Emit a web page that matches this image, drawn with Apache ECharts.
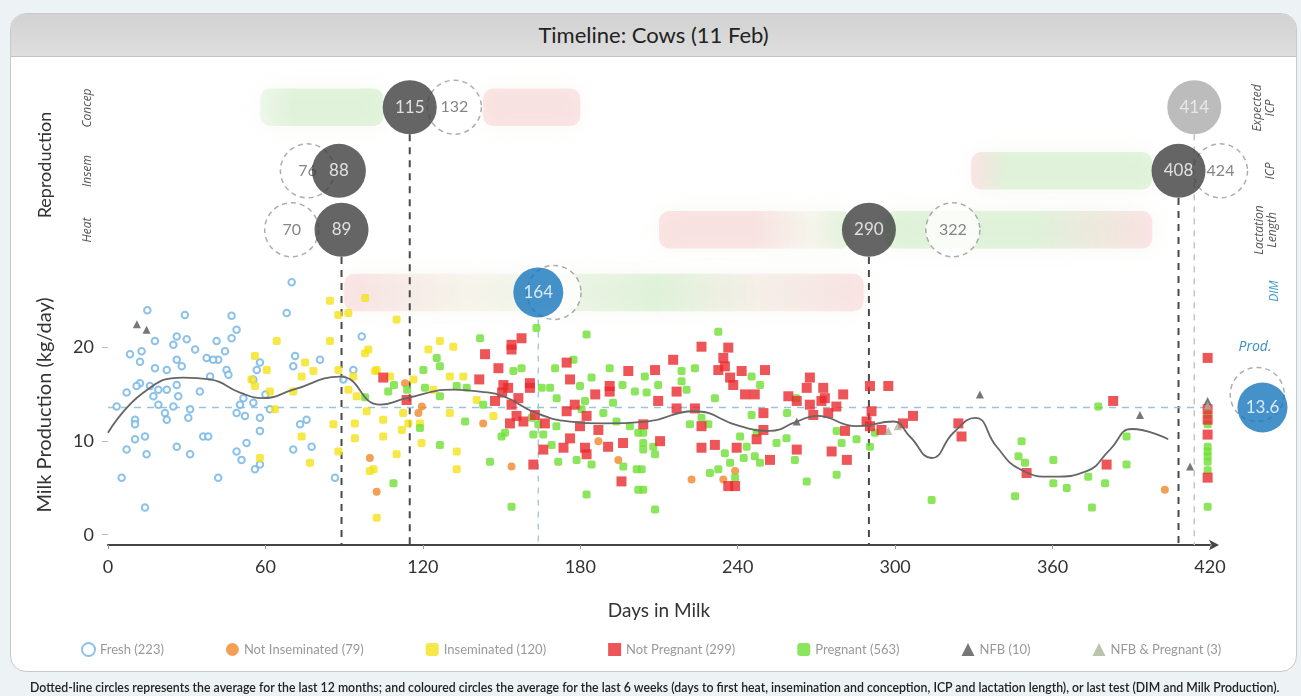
<!DOCTYPE html>
<html>
<head>
<meta charset="utf-8">
<script src="https://cdn.jsdelivr.net/npm/echarts@6/dist/echarts.min.js"></script>
<style>
  html, body { margin: 0; padding: 0; width: 1301px; height: 696px; overflow: hidden; background: #edf2f4; font-family: Lato, "Noto Sans", sans-serif; }
  .card { position: absolute; left: 10px; top: 13px; width: 1285px; height: 657px; background: #fff; border: 1px solid #c9c9c9; border-radius: 16px; overflow: hidden; }
  .card-header { height: 42px; line-height: 42px; text-align: center; font-size: 22px; color: #222; background: linear-gradient(#d2d2d2, #dedede); border-bottom: 1px solid #c4c4c4; }
  #chart { position: absolute; left: 0; top: 0; width: 1301px; height: 696px; }
  .footnote { position: absolute; left: 30px; top: 680px; font-size: 12.3px; color: #222; font-weight: 600; white-space: nowrap; }
</style>
</head>
<body>
<div class="card"><div class="card-header">Timeline: Cows (11 Feb)</div></div>
<div id="chart"></div>
<div class="footnote">Dotted-line circles represents the average for the last 12 months; and coloured circles the average for the last 6 weeks (days to first heat, insemination and conception, ICP and lactation length), or last test (DIM and Milk Production).</div>
<script>
// days in milk / kg per day
const fresh = [
  [17.9,20.7],[26.2,21.2],[30.0,20.9],[33.2,19.8],[24.9,20.3],[12.8,19.6],[8.4,19.3],[12.2,18.5],
  [17.9,17.8],[22.4,17.6],[28.1,18.0],[12.2,16.2],[16.0,15.9],[19.2,15.5],[22.4,15.5],[26.2,16.0],
  [7.1,15.2],[10.9,15.9],[17.3,14.8],[26.8,14.8],[19.2,13.9],[21.7,13.0],[22.4,12.3],[24.9,13.7],
  [31.3,13.4],[30.6,12.5],[10.3,12.3],[10.3,11.8],[10.3,10.2],[14.1,10.5],[7.1,9.1],[14.7,8.6],
  [26.2,9.4],[31.3,8.6],[36.3,10.5],[38.2,10.5],[41.4,20.7],[44.6,19.6],[47.1,21.0],[49.0,21.9],
  [47.1,23.4],[42.0,18.7],[45.2,17.6],[37.6,18.9],[40.1,18.7],[38.9,16.9],[45.9,17.1],[51.6,14.6],
  [50.3,13.9],[49.0,13.0],[52.2,12.7],[55.4,14.1],[56.7,17.6],[57.9,18.4],[55.4,16.6],[57.9,12.5],
  [57.9,11.1],[52.8,9.8],[49.0,8.9],[50.9,8.0],[56.0,7.0],[57.9,7.5],[61.7,13.4],[68.1,23.7],
  [71.3,19.1],[70.6,18.0],[73.2,11.8],[75.7,12.3],[70.6,9.1],[77.6,9.4],[80.8,18.7],[86.5,6.1],
  [89.7,16.6],[93.5,17.6],[96.7,21.2],[3.3,13.7],[42.0,6.1],[14.1,2.9],[5.2,6.1],[29.3,23.5],
  [26.2,18.7],[70.0,27.0],[15.0,24.0],[35.0,15.3],[60.0,15.0]
];
const notInseminated = [
  [99.8,8.2],[102.4,4.6],[113.2,16.2],[118.3,13.0],[119.6,13.7],[143.0,11.9],[153.8,7.3],
  [186.9,10.0],[194.5,8.0],[222.4,5.9],[234.5,5.9],[239.0,6.8],[402.8,4.8]
];
const inseminated = [
  [84.6,25.0],[98.0,25.3],[87.8,23.5],[91.6,23.7],[64.3,20.7],[84.6,20.7],[98.0,19.4],[99.2,19.8],
  [56.0,19.1],[60.5,17.6],[54.7,16.6],[56.0,15.9],[61.7,15.3],[73.8,16.9],[75.1,18.4],[78.3,17.5],
  [87.8,17.6],[93.5,16.9],[91.6,15.5],[94.8,14.8],[63.6,13.4],[70.6,15.3],[85.9,11.8],[94.1,11.9],
  [98.6,13.2],[73.8,10.5],[94.1,10.3],[57.9,8.2],[77.0,7.7],[87.8,8.9],[99.8,6.8],[102.4,1.8],
  [101.8,17.5],[110.0,23.0],[126.5,20.7],[122.1,19.8],[131.6,20.1],[102.4,17.6],[107.5,16.9],
  [116.4,16.6],[130.3,16.9],[135.4,16.9],[124.0,15.5],[112.5,13.0],[114.5,11.9],[112.0,11.2],
  [104.9,12.3],[104.9,10.5],[118.9,11.9],[119.5,9.8],[110.0,8.6],[132.9,8.9],[132.9,7.0],
  [101.2,7.0],[140.5,14.4],[146.9,12.7],[130.3,13.0]
];
const notPregnant = [
  [104.9,16.8],[113.8,14.4],[143.7,19.3],[153.8,20.3],[153.8,19.8],[157.6,21.0],[148.8,17.8],
  [141.5,16.6],[150.7,16.0],[152.5,15.7],[150.2,15.2],[160.8,16.2],[160.8,15.7],[156.4,14.6],
  [147.5,14.3],[153.8,13.9],[155.7,12.7],[153.2,11.9],[158.3,12.1],[162.7,12.8],[166.5,11.9],
  [165.9,9.1],[162.1,7.5],[174.8,18.4],[176.1,16.6],[174.8,13.2],[177.9,13.9],[179.9,11.6],
  [182.4,12.7],[176.1,10.3],[173.6,9.3],[181.8,9.3],[182.4,8.6],[186.9,11.2],[185.7,15.0],
  [191.2,15.9],[191.2,15.3],[198.3,17.5],[190.6,9.4],[196.3,9.8],[195.7,5.7],[204.0,11.8],
  [208.5,17.6],[210.4,10.0],[215.4,18.7],[216.7,15.3],[209.7,14.3],[216.7,13.5],[223.7,13.5],
  [226.2,20.1],[236.4,20.0],[234.5,18.9],[235.1,18.0],[232.6,17.6],[237.1,16.8],[238.3,16.0],
  [241.5,17.5],[250.4,17.6],[242.8,15.0],[246.5,15.0],[226.2,11.6],[226.2,9.3],[231.3,9.6],
  [239.6,9.3],[249.8,13.0],[249.8,11.2],[247.2,10.2],[252.3,8.0],[236.4,5.2],[239.0,5.2],
  [262.5,9.1],[267.5,16.8],[266.3,15.7],[272.6,15.7],[259.3,14.8],[262.5,14.3],[267.5,13.9],
  [271.9,14.3],[273.2,14.6],[277.6,13.7],[280.2,15.0],[268.8,12.8],[274.5,13.0],[275.8,8.9],
  [280.9,11.1],[281.6,8.0],[290.4,15.9],[297.4,15.9],[291.0,13.2],[289.1,12.1],[290.4,11.6],
  [294.8,11.2],[303.0,11.9],[306.8,12.7],[324.1,11.9],[325.3,10.5],[350.1,6.6],[380.6,7.5],
  [383.1,14.3],[419.1,18.9],[419.1,13.4],[419.1,12.3],[419.1,10.7],[419.1,6.1]
];
const pregnant = [
  [163.3,22.1],[141.8,21.0],[182.4,21.4],[125.3,18.9],[120.2,17.6],[126.5,18.0],[120.8,15.7],
  [126.5,14.8],[132.9,15.9],[136.7,15.7],[106.8,15.3],[154.5,17.5],[157.6,17.8],[165.3,15.7],
  [168.5,15.7],[170.4,17.8],[177.4,18.7],[171.0,14.6],[179.9,15.9],[181.8,14.3],[180.5,13.4],
  [184.3,16.8],[191.2,17.8],[196.1,16.0],[200.8,15.3],[192.5,14.1],[188.8,13.0],[198.9,11.6],
  [193.8,12.1],[202.1,10.9],[204.0,9.1],[196.4,7.3],[201.5,7.0],[202.1,4.8],[184.3,7.5],
  [182.4,4.3],[178.6,8.0],[171.6,7.8],[169.1,9.6],[162.1,10.7],[165.9,10.7],[164.0,11.8],
  [161.5,12.5],[150.0,10.5],[151.3,10.9],[145.6,7.8],[153.8,3.0],[136.1,12.1],[126.5,9.6],
  [118.9,11.4],[108.8,5.5],[143.0,13.9],[170.9,11.6],[98.0,14.7],[109.0,16.0],[114.0,15.5],
  [232.6,21.7],[223.7,17.8],[218.6,17.5],[218.6,16.4],[204.6,16.9],[205.3,15.2],[209.7,16.0],
  [220.5,15.5],[231.3,14.6],[226.2,12.5],[221.8,11.8],[228.8,11.8],[204.0,10.9],[204.0,9.8],
  [207.8,9.4],[208.5,8.6],[203.4,7.0],[204.0,4.8],[208.5,2.7],[235.1,8.7],[237.1,7.7],
  [240.9,10.5],[243.4,9.4],[246.5,8.4],[242.3,8.2],[248.5,7.7],[229.4,6.6],[232.6,7.0],
  [239.0,6.1],[245.3,16.9],[248.5,16.0],[245.3,12.8],[247.2,10.9],[254.8,9.8],[258.6,10.3],
  [261.8,8.0],[266.3,5.7],[258.8,13.0],[262.3,14.6],[277.7,11.1],[279.6,9.8],[285.3,10.2],
  [277.7,6.4],[290.4,9.4],[292.3,10.9],[313.9,3.7],[348.2,10.0],[347.0,8.4],[349.5,7.7],
  [360.3,8.0],[360.3,5.5],[365.4,5.0],[345.7,4.1],[373.6,6.2],[375.0,2.9],[380.0,5.5],
  [388.2,10.5],[388.2,7.5],[377.4,13.7],[419.1,9.4],[419.1,8.9],[419.1,8.4],[419.1,7.8],
  [419.1,6.9],[419.1,3.0],[419.1,11.8],[419.1,12.8]
];
const nfb = [[14.7,21.9],[11.0,22.5],[262.5,12.1],[332.3,15.0],[393.3,12.8],[412.4,7.3],[419.1,14.3]];
const nfbPregnant = [[297.4,11.1],[301.0,11.6],[419.1,13.8]];

// smoothed production curve
const trend = [
  [0,10.9],[13.5,15.2],[28.7,16.8],[38.9,16.6],[50.3,15.2],[59.2,14.6],[70.6,15.5],[88.4,16.9],
  [103.7,13.9],[113.8,14.6],[131.6,15.5],[141.8,15.3],[150.7,14.8],[163.3,13.0],[176.1,12.1],
  [188.8,11.9],[205.3,12.1],[223.1,13.2],[240.9,11.6],[252.3,11.1],[262.5,12.1],[270.1,12.7],
  [285.3,11.6],[299.3,12.1],[305.6,10.5],[313.9,8.2],[322.2,10.9],[330.5,12.5],[338.7,9.4],
  [347.6,7.0],[360.3,6.2],[373.0,6.8],[381.9,9.1],[390.2,11.3],[404.1,10.2]
];

// reproduction timeline: rows of the upper panel, and the circle values
const rowY = { concep: 45.7, insem: 38.9, heat: 32.6, dim: 25.9 };
const recent = [[115,'concep'],[88,'insem'],[89,'heat'],[290,'heat'],[408,'insem']];
const average = [[132,'concep'],[76,'insem'],[70,'heat'],[322,'heat'],[424,'insem']];
const expectedIcp = [[414,'concep']];
const dimRecent = 164, dimAverage = 170;
const prodRecent = 13.6, prodAverage = 15.0;
const prodX = 440;
// soft target bands: [startDay, endDay, row]
const bands = [[58,105,'concep'],[143,180,'concep'],[329,398,'insem'],[210,283,'heat'],[296,398,'heat'],[90,288,'dim']];
const PINK = 'rgba(248,200,200,0.45)', GREEN = 'rgba(200,236,190,0.5)', PALE = 'rgba(240,238,218,0.4)';
const bandStops = [
  [[0,'rgba(200,236,190,0.3)'],[0.3,GREEN],[1,GREEN]],
  [[0,PINK],[1,PINK]],
  [[0,PINK],[0.2,GREEN],[1,GREEN]],
  [[0,PINK],[0.5,PINK],[0.8,PALE],[1,GREEN]],
  [[0,GREEN],[0.55,GREEN],[1,PINK]],
  [[0,PINK],[0.25,PALE],[0.45,'rgba(218,238,204,0.45)'],[0.6,GREEN],[0.8,'rgba(240,228,214,0.45)'],[1,PINK]]
];
// vertical guides: [day, row they hang from, style]
const guides = [[89,'heat','dark'],[115,'concep','dark'],[290,'heat','dark'],[408,'insem','dark'],[414,'concep','light'],[164,'dim','blue']];
const guideStyle = {
  dark: { color: '#4a4a4a', width: 2, type: [7, 6] },
  light: { color: '#c4c4c4', width: 1.5, type: [6, 6] },
  blue: { color: '#a9c9dc', width: 1.5, type: [6, 6] }
};

const yTicks = [0, 10, 20];
const ITALIC = '"Open Sans", "Noto Sans", sans-serif';

const chart = echarts.init(document.getElementById('chart'), null, { renderer: 'canvas' });

const circleLabel = (color, size) => ({
  show: true, position: 'inside', color: color, fontSize: size, fontFamily: 'Lato',
  formatter: p => p.value[2]
});

const vText = (txt, x, y, size, fill, italic) => ({
  type: 'text', x: x, y: y, rotation: Math.PI / 2, silent: true,
  style: {
    text: txt, align: 'center', verticalAlign: 'middle', fill: fill,
    fontFamily: italic ? ITALIC : 'Lato', fontSize: size, fontStyle: italic ? 'italic' : 'normal',
    lineHeight: size + 1
  }
});

const option = {
  animation: false,
  grid: { left: 108, right: 91, top: 67, bottom: 151 },
  xAxis: {
    type: 'value', min: 0, max: 420, interval: 60,
    name: 'Days in Milk', nameLocation: 'middle', nameGap: 56,
    nameTextStyle: { fontSize: 19, color: '#333', fontFamily: 'Lato' },
    axisLine: { onZero: false, symbol: ['none', 'arrow'], symbolSize: [8, 10], symbolOffset: [0, 9], lineStyle: { color: '#444', width: 2 } },
    axisTick: { length: 4, lineStyle: { color: '#999' } },
    axisLabel: { fontSize: 18, color: '#333', margin: 13, fontFamily: 'Lato' },
    splitLine: { show: false }
  },
  yAxis: {
    type: 'value', min: -1.1, max: 50,
    axisLine: { show: false },
    axisTick: { show: true, length: 6, customValues: yTicks, lineStyle: { color: '#bbb' } },
    axisLabel: { fontSize: 18, color: '#333', margin: 14, customValues: yTicks, fontFamily: 'Lato' },
    splitLine: { show: false }
  },
  legend: {
    left: 76, top: 637, itemGap: 62, itemWidth: 13, itemHeight: 13,
    textStyle: { color: '#999', fontSize: 13, fontFamily: 'Lato' },
    data: ['Fresh (223)', 'Not Inseminated (79)', 'Inseminated (120)', 'Not Pregnant (299)', 'Pregnant (563)', 'NFB (10)', 'NFB & Pregnant (3)']
  },
  graphic: [
    vText('Reproduction', 45, 165, 18, '#333', false),
    vText('Milk Production (kg/day)', 45, 405, 20, '#333', false),
    vText('Concep', 88, 108, 12, '#555', true),
    vText('Insem', 88, 171, 12, '#555', true),
    vText('Heat', 88, 230, 12, '#555', true),
    vText('Expected\nICP', 1264, 108, 12, '#555', true),
    vText('ICP', 1271, 171, 12, '#555', true),
    vText('Lactation\nLength', 1266, 230, 12, '#555', true),
    vText('DIM', 1275, 291, 12, '#3a9cc8', true),
    { type: 'text', x: 1255, y: 347, silent: true, style: { text: 'Prod.', align: 'center', verticalAlign: 'middle', fontFamily: ITALIC, fontSize: 14, fontStyle: 'italic', fill: '#3a8fc0' } }
  ],
  series: [
    {
      type: 'custom', name: 'bands', silent: true, z: 0,
      data: bands.map(b => [b[0], b[1], rowY[b[2]]]),
      encode: { x: [0, 1], y: 2 },
      renderItem: (params, api) => {
        const a = api.coord([api.value(0), api.value(2) + 2]);
        const b = api.coord([api.value(1), api.value(2) - 2]);
        return {
          type: 'rect',
          shape: { x: a[0], y: a[1], width: b[0] - a[0], height: b[1] - a[1], r: 10 },
          style: {
            fill: new echarts.graphic.LinearGradient(0, 0, 1, 0, bandStops[params.dataIndex].map(s => ({ offset: s[0], color: s[1] }))),
            shadowBlur: 20, shadowColor: 'rgba(225,225,215,0.6)'
          }
        };
      }
    },
    ...guides.map(g => ({
      type: 'line', name: 'guide', silent: true, symbol: 'none', z: 1,
      lineStyle: guideStyle[g[2]],
      data: [[g[0], rowY[g[1]] - 2.9], [g[0], -1.1]]
    })),
    {
      type: 'line', name: 'prodRef', silent: true, symbol: 'none', z: 1,
      lineStyle: { color: '#9cc3da', width: 1.5, type: [7, 6] },
      data: [[0, prodRecent], [prodX - 2.5, prodRecent]]
    },
    {
      type: 'scatter', name: 'Fresh (223)', symbol: 'emptyCircle', symbolSize: 6.5, z: 3,
      itemStyle: { color: '#6fb3e4', borderColor: '#6fb3e4', borderWidth: 1, opacity: 0.8 },
      data: fresh
    },
    {
      type: 'scatter', name: 'Not Inseminated (79)', symbol: 'circle', symbolSize: 8, z: 3,
      itemStyle: { color: '#f0872a' }, data: notInseminated
    },
    {
      type: 'scatter', name: 'Inseminated (120)', symbol: 'roundRect', symbolSize: 8, z: 3,
      itemStyle: { color: '#f4e21a' }, data: inseminated
    },
    {
      type: 'scatter', name: 'Not Pregnant (299)', symbol: 'rect', symbolSize: 10, z: 4,
      itemStyle: { color: '#ea2a2e' }, data: notPregnant
    },
    {
      type: 'scatter', name: 'Pregnant (563)', symbol: 'roundRect', symbolSize: 8, z: 3,
      itemStyle: { color: '#6fe034' }, data: pregnant
    },
    {
      type: 'scatter', name: 'NFB (10)', symbol: 'triangle', symbolSize: 8, z: 4,
      itemStyle: { color: '#555' }, data: nfb
    },
    {
      type: 'scatter', name: 'NFB & Pregnant (3)', symbol: 'triangle', symbolSize: 8, z: 4,
      itemStyle: { color: '#a9b49a' }, data: nfbPregnant
    },
    {
      type: 'line', name: 'trend', silent: true, symbol: 'none', smooth: 0.5, z: 5,
      lineStyle: { color: '#666', width: 1.8 }, data: trend
    },
    {
      type: 'scatter', name: 'avg', silent: true, symbolSize: 54, z: 6, clip: false,
      itemStyle: { color: '#fff', borderColor: '#999', borderWidth: 1.5, borderType: [5, 4] },
      label: circleLabel('#666', 16),
      data: average.map(d => [d[0], rowY[d[1]], String(d[0])])
        .concat([[dimAverage, rowY.dim, ''], [prodX - 2, prodAverage, '']])
    },
    {
      type: 'scatter', name: 'recent', silent: true, symbolSize: 54, z: 7,
      itemStyle: { color: '#3f3f3f' },
      label: circleLabel('#fff', 17),
      data: recent.map(d => [d[0], rowY[d[1]], String(d[0])])
    },
    {
      type: 'scatter', name: 'expected', silent: true, symbolSize: 54, z: 7,
      itemStyle: { color: '#ababab' },
      label: circleLabel('#f4f4f4', 17),
      data: expectedIcp.map(d => [d[0], rowY[d[1]], String(d[0])])
    },
    {
      type: 'scatter', name: 'current', silent: true, symbolSize: 50, z: 7, clip: false,
      itemStyle: { color: '#1677bd' },
      label: circleLabel('#fff', 17),
      data: [[dimRecent, rowY.dim, String(dimRecent)], [prodX, prodRecent, String(prodRecent)]]
    }
  ]
};
chart.setOption(option);
</script>
</body>
</html>
